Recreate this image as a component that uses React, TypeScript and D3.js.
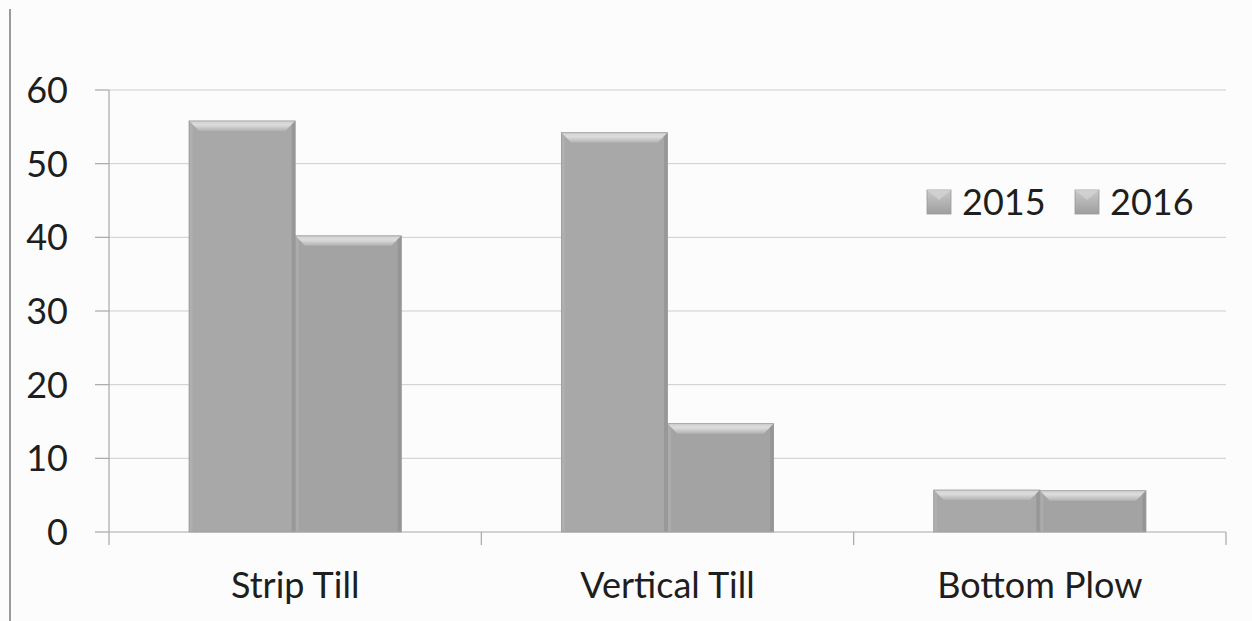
import React from "react";
import * as d3 from "d3";

const categories = ["Strip Till", "Vertical Till", "Bottom Plow"];
const seriesNames = ["2015", "2016"];
const values2015 = [55.8, 54.2, 5.7];
const values2016 = [40.2, 14.7, 5.6];
const yTicks = [0, 10, 20, 30, 40, 50, 60];

const W = 1252;
const H = 621;
const M = { left: 109, right: 26, top: 90, bottom: 89 };
const FONT = "Lato, 'Open Sans', sans-serif";

const series = [values2015, values2016];
const fills = ["#a8a8a8", "#a3a3a3"];

function BevelBar({ x, y, w, h, fill }: { x: number; y: number; w: number; h: number; fill: string }) {
  const b = Math.min(10, h / 2, w / 2);
  return (
    <g>
      <rect x={x} y={y} width={w} height={h} fill={fill} />
      {/* top bevel */}
      <path
        d={`M${x},${y} L${x + w},${y} L${x + w - b},${y + b} L${x + b},${y + b} Z`}
        fill="url(#bevelTop)"
      />
      {/* left bevel */}
      <path
        d={`M${x},${y} L${x + b * 0.35},${y + b * 0.35} L${x + b * 0.35},${y + h} L${x},${y + h} Z`}
        fill="#b6b6b6"
        opacity={0.5}
      />
      {/* right bevel */}
      <path
        d={`M${x + w},${y} L${x + w - b * 0.35},${y + b * 0.35} L${x + w - b * 0.35},${y + h} L${x + w},${y + h} Z`}
        fill="#8a8a8a"
        opacity={0.55}
      />
      <rect x={x} y={y} width={w} height={h} fill="none" stroke="#979797" strokeWidth={0.8} />
    </g>
  );
}

export default function App() {
  const x = d3
    .scaleBand<string>()
    .domain(categories)
    .range([M.left, W - M.right])
    .paddingInner(0.43)
    .paddingOuter(0.215);
  const y = d3.scaleLinear().domain([0, 60]).range([H - M.bottom, M.top]);
  const bw = x.bandwidth() / 2;
  const step = (W - M.right - M.left) / categories.length;
  const catEdges = d3.range(categories.length + 1).map((i) => M.left + i * step);

  return (
    <svg width={W} height={H} style={{ position: "absolute", left: 0, top: 0, background: "#fcfcfc" }}>
      <defs>
        <linearGradient id="bevelTop" x1="0" y1="0" x2="0" y2="1">
          <stop offset="0" stopColor="#d2d2d2" />
          <stop offset="0.4" stopColor="#dcdcdc" />
          <stop offset="1" stopColor="#b2b2b2" />
        </linearGradient>
        <linearGradient id="swatch" x1="0" y1="0" x2="0" y2="1">
          <stop offset="0" stopColor="#c9c9c9" />
          <stop offset="1" stopColor="#9e9e9e" />
        </linearGradient>
      </defs>
      <rect x={0} y={0} width={W} height={H} fill="#fcfcfc" />
      {/* chart frame left edge */}
      <line x1={10} x2={10} y1={9} y2={H} stroke="#9a9a9a" strokeWidth={2} />

      {/* gridlines */}
      {yTicks.slice(1).map((t) => (
        <line key={t} x1={M.left} x2={W - M.right} y1={y(t)} y2={y(t)} stroke="#cdcdcd" strokeWidth={1} />
      ))}

      {/* bars */}
      {categories.map((c, i) =>
        series.map((vals, s) => {
          const bx = (x(c) as number) + s * bw;
          const by = y(vals[i]);
          return <BevelBar key={c + s} x={bx} y={by} w={bw} h={y(0) - by} fill={fills[s]} />;
        })
      )}

      {/* y axis */}
      <line x1={M.left} x2={M.left} y1={M.top} y2={y(0)} stroke="#a8a8a8" strokeWidth={1.2} />
      {yTicks.map((t) => (
        <g key={t}>
          <line x1={M.left - 14} x2={M.left} y1={y(t)} y2={y(t)} stroke="#a8a8a8" strokeWidth={1.2} />
          <text
            x={68}
            y={y(t)}
            dy="0.36em"
            textAnchor="end"
            fontFamily={FONT}
            fontSize={36}
            fill="#1e1e1e"
          >
            {t}
          </text>
        </g>
      ))}

      {/* x axis */}
      <line x1={M.left} x2={W - M.right} y1={y(0)} y2={y(0)} stroke="#a8a8a8" strokeWidth={1.2} />
      {catEdges.map((e, i) => (
        <line key={i} x1={e} x2={e} y1={y(0)} y2={y(0) + 13} stroke="#a8a8a8" strokeWidth={1.2} />
      ))}
      {categories.map((c) => (
        <text
          key={c}
          x={(x(c) as number) + x.bandwidth() / 2}
          y={598}
          textAnchor="middle"
          fontFamily={FONT}
          fontSize={36}
          fill="#1e1e1e"
        >
          {c}
        </text>
      ))}

      {/* legend */}
      {seriesNames.map((n, i) => {
        const lx = 927 + i * 148;
        return (
          <g key={n}>
            <rect x={lx} y={190} width={24} height={24} fill="url(#swatch)" stroke="#9a9a9a" strokeWidth={0.8} />
            <path d={`M${lx},190 L${lx + 24},190 L${lx + 12},200 Z`} fill="#d6d6d6" opacity={0.7} />
            <text x={lx + 35} y={202} dy="0.36em" fontFamily={FONT} fontSize={36} fill="#1e1e1e">
              {n}
            </text>
          </g>
        );
      })}
    </svg>
  );
}
